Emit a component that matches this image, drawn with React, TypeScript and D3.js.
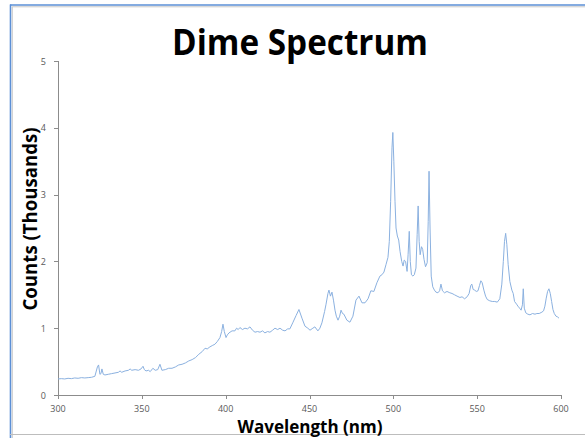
import React from "react";
import * as d3 from "d3";

// Spectrum samples: wavelength (nm) and counts (thousands)
const wavelengths = [
  300, 302, 304, 306, 308, 310, 312, 314, 316, 318, 320, 322, 323.5, 324.2, 325, 325.6, 326.2, 327, 328,
  330, 332, 334, 336, 337, 338, 340, 342, 343, 344, 346, 348, 349.5, 350.7, 351.5, 352.5, 354, 355, 356.6,
  358, 359.5, 360.8, 362, 364, 366, 368, 370, 372, 374, 376, 378, 380, 382, 384, 386, 387.7, 389, 390.6,
  392, 393.6, 395, 396.6, 397.6, 398.4, 399.2, 400.2, 401, 402, 403.8, 405.5, 406.5, 407.5, 408.5, 410,
  411.5, 413, 414.5, 416, 417.5, 419, 420.5, 422, 423.4, 425, 426.4, 428, 429.4, 431, 432.4, 434, 435.4,
  437, 438.3, 440, 442, 443.7, 445.5, 447.3, 449, 450.3, 452, 453.2, 455, 456.2, 457.4, 459, 459.8, 461,
  461.6, 462.5, 463.4, 464.3, 465.2, 466, 467, 468, 468.8, 469.7, 470.5, 472.3, 474.1, 475.9, 477.7, 479.5,
  481.3, 483.1, 484.9, 486.6, 488.4, 490.2, 492, 493.2, 494.4, 495.6, 496.8, 497.6, 498.4, 499.2, 499.7,
  500.3, 501, 501.6, 502.4, 503.2, 504, 505, 505.8, 506.5, 507.3, 508.2, 508.8, 509.5, 510.1, 510.8, 511.7,
  512.5, 513.5, 514.2, 514.8, 515.4, 516, 516.8, 517.5, 518.3, 519.2, 520.2, 520.8, 521.3, 521.9, 522.6,
  523.5, 524.5, 525.4, 526.6, 527.6, 528.4, 529.3, 530.5, 532, 533.7, 535, 536.5, 538, 539.7, 541, 542.5,
  544, 545.2, 546.2, 546.8, 547.6, 548.5, 549.5, 550.5, 551.4, 552.2, 553, 554, 555, 556, 557.5, 559,
  560.5, 562, 563.5, 564.7, 565.6, 566.3, 567, 567.7, 568.5, 569.5, 570.7, 571.5, 572.3, 573.5, 574.3,
  575.3, 576.2, 577, 577.5, 578.1, 579, 580.2, 581.5, 583, 584.5, 585.6, 587, 588.6, 589.6, 590.4, 591.2,
  592, 592.8, 593.6, 594.4, 595.2, 596, 597, 597.9, 598.8,
];

const counts = [
  0.24, 0.245, 0.24, 0.25, 0.245, 0.255, 0.25, 0.26, 0.255, 0.26, 0.265, 0.28, 0.42, 0.45, 0.31, 0.32, 0.39, 0.31, 0.3,
  0.31, 0.32, 0.33, 0.34, 0.36, 0.34, 0.36, 0.37, 0.39, 0.37, 0.38, 0.37, 0.39, 0.43, 0.38, 0.36, 0.37, 0.35, 0.4,
  0.37, 0.38, 0.46, 0.37, 0.38, 0.4, 0.4, 0.42, 0.45, 0.46, 0.48, 0.51, 0.53, 0.56, 0.61, 0.65, 0.7, 0.69, 0.72,
  0.74, 0.76, 0.8, 0.86, 0.95, 1.06, 0.95, 0.86, 0.9, 0.93, 0.96, 0.96, 1.0, 0.98, 1.01, 0.98,
  1.0, 0.99, 1.02, 0.97, 0.94, 0.95, 0.94, 0.96, 0.93, 0.95, 0.94, 0.97, 1.0, 0.98, 1.0, 0.97, 0.96,
  0.99, 0.99, 1.08, 1.19, 1.28, 1.15, 1.03, 1.0, 0.97, 1.0, 1.02, 0.96, 1.0, 1.08, 1.25, 1.35, 1.52,
  1.57, 1.48, 1.54, 1.42, 1.27, 1.18, 1.12, 1.18, 1.27, 1.22, 1.21, 1.12, 1.09, 1.18, 1.42, 1.48,
  1.38, 1.38, 1.44, 1.56, 1.55, 1.68, 1.78, 1.8, 1.84, 1.95, 2.06, 2.3, 2.9, 3.7, 3.93,
  3.5, 2.9, 2.5, 2.38, 2.32, 2.15, 2.0, 1.93, 2.02, 2.0, 1.85, 2.1, 2.45, 2.0, 1.8, 1.78,
  1.8, 1.9, 2.4, 2.83, 2.3, 2.1, 2.22, 2.18, 2.03, 1.92, 1.98, 2.6, 3.35, 2.5, 1.78,
  1.62, 1.57, 1.54, 1.53, 1.56, 1.66, 1.56, 1.53, 1.55, 1.53, 1.52, 1.5, 1.48, 1.46, 1.47, 1.44,
  1.47, 1.52, 1.64, 1.66, 1.58, 1.57, 1.55, 1.56, 1.64, 1.71, 1.68, 1.57, 1.48, 1.43, 1.41, 1.4,
  1.4, 1.39, 1.44, 1.66, 2.0, 2.3, 2.42, 2.25, 1.95, 1.7, 1.57, 1.52, 1.4, 1.36, 1.33,
  1.3, 1.27, 1.35, 1.59, 1.3, 1.23, 1.21, 1.2, 1.22, 1.21, 1.22, 1.22, 1.24, 1.26, 1.33, 1.45,
  1.55, 1.59, 1.52, 1.4, 1.28, 1.22, 1.18, 1.17, 1.15,
];

const xTicks = [300, 350, 400, 450, 500, 550, 600];
const yTicks = [0, 1, 2, 3, 4, 5];

const W = 585;
const H = 438;
const plot = { left: 58, right: 561, top: 61, bottom: 395 };
const labelFont = "'Open Sans', 'Noto Sans', sans-serif";

export default function App() {
  const x = d3.scaleLinear().domain([300, 600]).range([plot.left, plot.right]);
  const y = d3.scaleLinear().domain([0, 5]).range([plot.bottom, plot.top]);

  const points = wavelengths.map((w, i) => [w, counts[i]] as [number, number]);
  const line = d3
    .line<[number, number]>()
    .x((d) => x(d[0]))
    .y((d) => y(d[1]));

  const axisColor = "#8c8c8c";
  const tickText = "#595959";

  return (
    <svg
      width={W}
      height={H}
      style={{ position: "absolute", left: 0, top: 0, background: "#fff" }}
    >
      {/* slide frame */}
      <line x1={10} x2={W} y1={5} y2={5} stroke="#5b8fd6" strokeWidth={1.6} />
      <line x1={12} x2={W} y1={6.8} y2={6.8} stroke="#c8c8c8" strokeWidth={1} />
      <line x1={10.5} x2={10.5} y1={4.5} y2={H} stroke="#5b8fd6" strokeWidth={1.6} />
      <line x1={12.3} x2={12.3} y1={7} y2={H} stroke="#c8c8c8" strokeWidth={1} />
      <line x1={10} x2={W} y1={434.5} y2={434.5} stroke="#bdbdbd" strokeWidth={1.2} />

      {/* title */}
      <text
        x={300}
        y={55}
        textAnchor="middle"
        fontFamily={labelFont}
        fontWeight="bold"
        fontSize={35}
        textLength={256}
        lengthAdjust="spacingAndGlyphs"
        fill="#000"
      >
        Dime Spectrum
      </text>

      {/* axes */}
      <line x1={plot.left + 0.5} x2={plot.left + 0.5} y1={plot.top} y2={plot.bottom} stroke={axisColor} />
      <line x1={plot.left} x2={plot.right} y1={plot.bottom + 0.5} y2={plot.bottom + 0.5} stroke={axisColor} />
      {yTicks.map((t) => (
        <g key={"y" + t}>
          <line x1={plot.left - 4} x2={plot.left} y1={Math.round(y(t)) + 0.5} y2={Math.round(y(t)) + 0.5} stroke={axisColor} />
          <text
            x={plot.left - 12}
            y={y(t) + 3.5}
            textAnchor="end"
            fontFamily={labelFont}
            fontSize={9}
            fill={tickText}
          >
            {t}
          </text>
        </g>
      ))}
      {xTicks.map((t) => (
        <g key={"x" + t}>
          <line x1={Math.round(x(t)) + 0.5} x2={Math.round(x(t)) + 0.5} y1={plot.bottom} y2={plot.bottom + 4} stroke={axisColor} />
          <text
            x={x(t)}
            y={plot.bottom + 17}
            textAnchor="middle"
            fontFamily={labelFont}
            fontSize={9}
            fill={tickText}
          >
            {t}
          </text>
        </g>
      ))}

      {/* spectrum */}
      <path d={line(points) ?? ""} fill="none" stroke="#8bb1e0" strokeWidth={1} strokeLinejoin="round" />

      {/* axis titles */}
      <text
        x={310}
        y={433}
        textAnchor="middle"
        fontFamily={labelFont}
        fontWeight="bold"
        fontSize={18}
        textLength={145}
        lengthAdjust="spacingAndGlyphs"
        fill="#000"
      >
        Wavelength (nm)
      </text>
      <text
        transform="translate(37,219) rotate(-90)"
        textAnchor="middle"
        fontFamily={labelFont}
        fontWeight="bold"
        fontSize={19}
        textLength={183}
        lengthAdjust="spacingAndGlyphs"
        fill="#000"
      >
        Counts (Thousands)
      </text>
    </svg>
  );
}
